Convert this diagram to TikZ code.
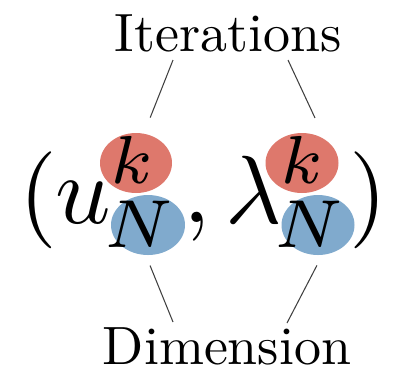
\documentclass[tikz,border=0pt]{standalone}
\usepackage{tikz}
\usetikzlibrary{shapes.geometric}
\definecolor{kred}{RGB}{222,120,108}
\definecolor{nblue}{RGB}{128,170,205}
\newcommand{\lbltext}[1]{\scalebox{3.07}{#1}}
\newcommand{\bigsym}[1]{\scalebox{5.52}{$#1$}}
\newcommand{\supsym}[1]{\scalebox{5.52}{$\scriptstyle #1$}}

\begin{document}
\begin{tikzpicture}[x=0.02cm, y=-0.02cm,
    blob/.style={ellipse, inner sep=0pt, minimum height=1.2cm},
    glyph/.style={inner sep=0pt, anchor=base},
    lead/.style={draw=black!75, line width=0.6pt}]
  \useasboundingbox (0,0) rectangle (394,370);

  % coloured blobs behind the indices
  \node[blob, fill=kred,  minimum width=1.44cm] (k1) at (136,163) {};
  \node[blob, fill=kred,  minimum width=1.46cm] (k2) at (302,163) {};
  \node[blob, fill=nblue, minimum width=1.48cm] (n1) at (148,225) {};
  \node[blob, fill=nblue, minimum width=1.46cm] (n2) at (318,225) {};

  % the pair (u_N^k, lambda_N^k)
  \node[glyph] (lp)    at (38,224)  {\bigsym{(}};
  \node[glyph] (u)     at (83,223)  {\bigsym{u}};
  \node[glyph] (k1t)   at (132,183) {\supsym{k}};
  \node[glyph] (n1t)   at (139,247) {\supsym{N}};
  \node[glyph] (comma) at (197,222) {\bigsym{,}};
  \node[glyph] (lam)   at (254,223) {\bigsym{\lambda}};
  \node[glyph] (k2t)   at (302,183) {\supsym{k}};
  \node[glyph] (n2t)   at (309,247) {\supsym{N}};
  \node[glyph] (rp)    at (368,224) {\bigsym{)}};

  % labels
  \node[glyph] (iter) at (228,51)  {\lbltext{Iterations}};
  \node[glyph] (dim)  at (227,364) {\lbltext{Dimension}};

  \coordinate (it-l) at ([xshift=-1.1cm, yshift=-0.18cm]iter.base);
  \coordinate (it-r) at ([xshift=1.2cm, yshift=-0.18cm]iter.base);
  \coordinate (dm-l) at ([xshift=-1.08cm, yshift=0.84cm]dim.base);
  \coordinate (dm-r) at ([xshift=1.2cm, yshift=0.82cm]dim.base);

  % leader lines
  \draw[lead, shorten <=0.34cm] (k1.75) -- (it-l);
  \draw[lead, shorten <=0.47cm] (k2.46) -- (it-r);
  \draw[lead, shorten <=0.22cm] (n1.266) -- (dm-l);
  \draw[lead, shorten <=0.23cm] (n2.278) -- (dm-r);
\end{tikzpicture}
\end{document}
